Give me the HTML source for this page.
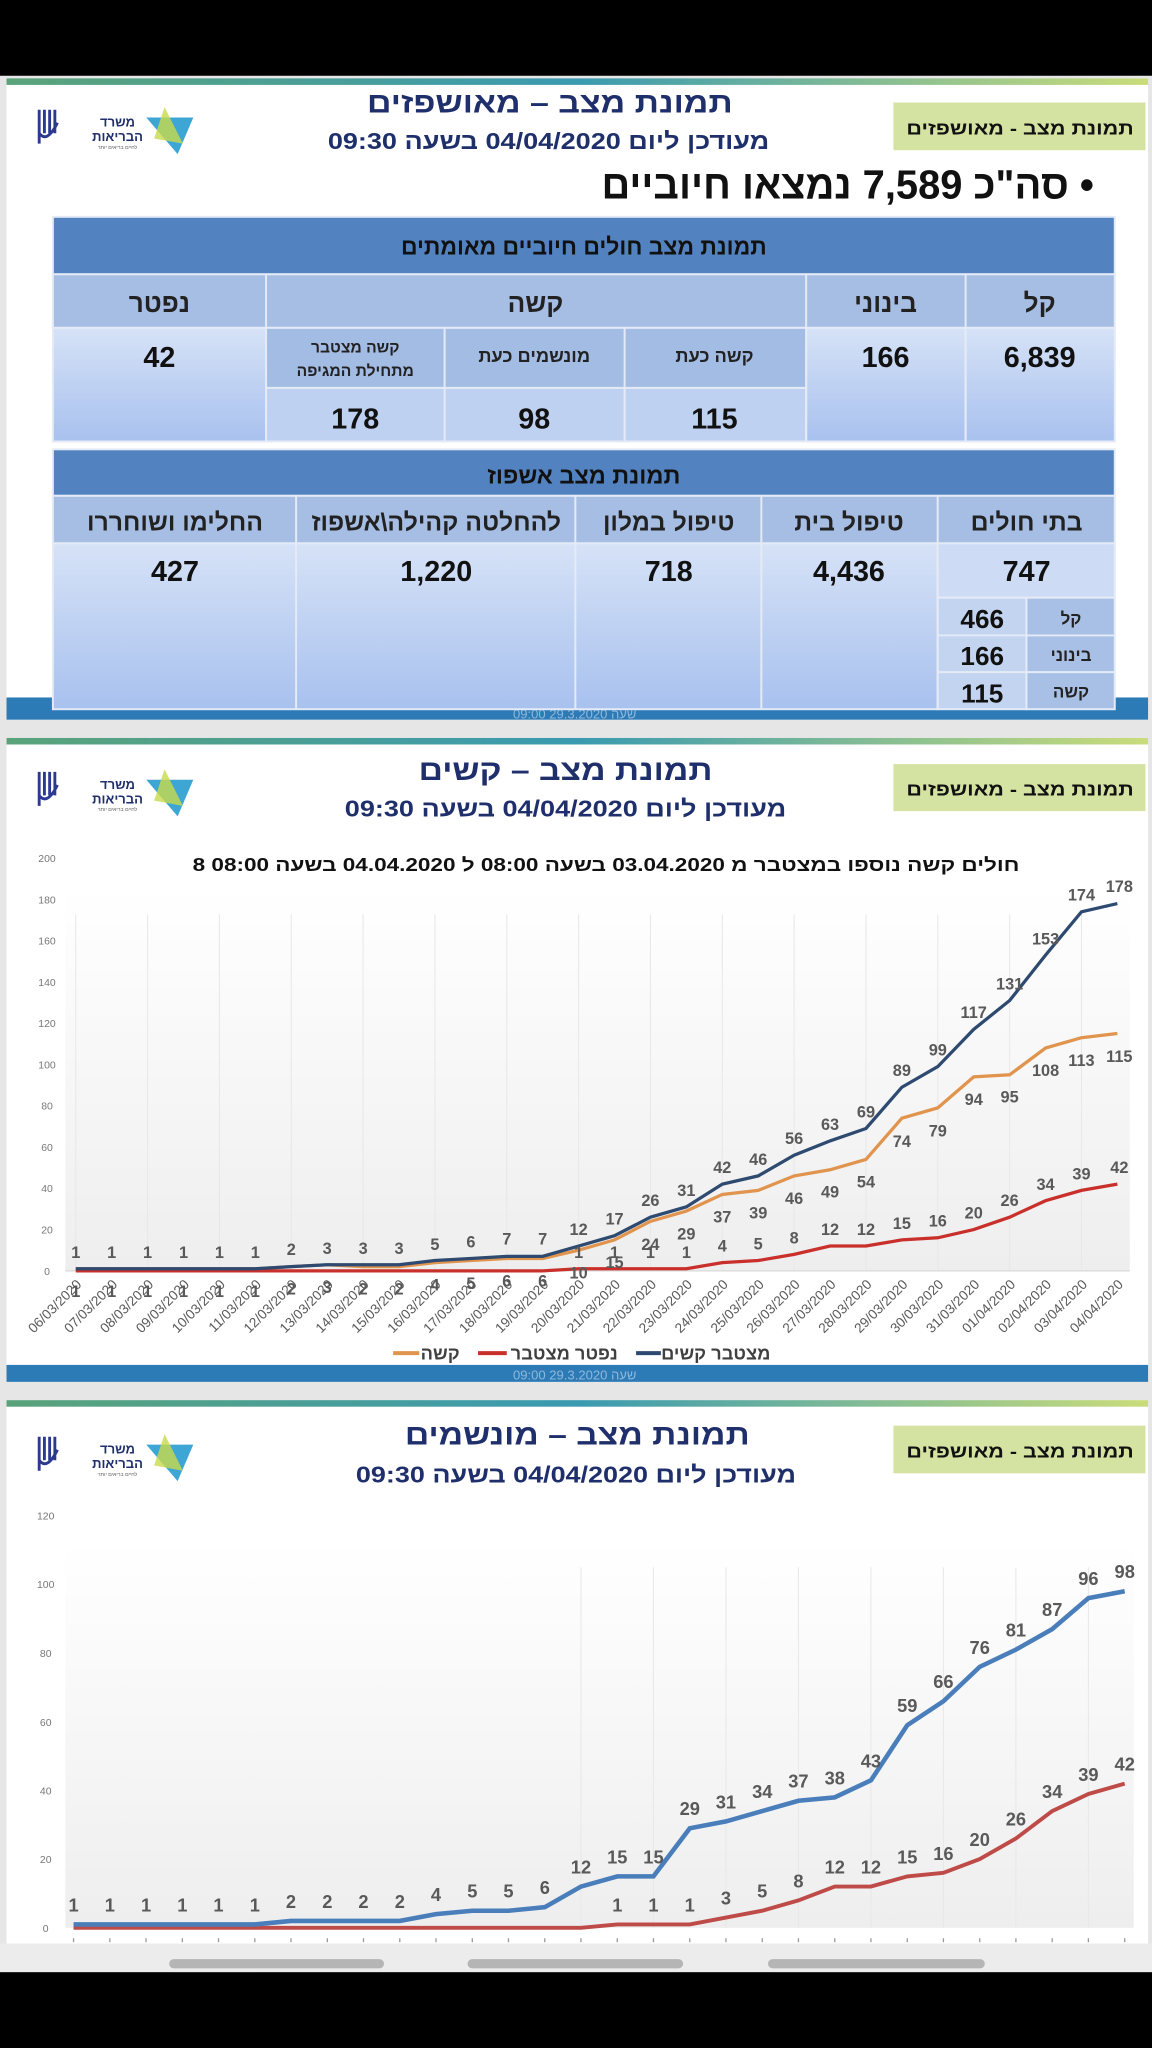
<!DOCTYPE html>
<html><head><meta charset="utf-8"><style>
html,body{margin:0;padding:0;background:#000;}
svg{display:block;}
text{font-family:"Liberation Sans","DejaVu Sans",sans-serif;}
</style></head><body>
<svg width="1152" height="2048" viewBox="0 0 882 1568" preserveAspectRatio="none" xmlns="http://www.w3.org/2000/svg">
<defs>
<linearGradient id="top" x1="0" x2="1"><stop offset="0" stop-color="#5aa37a"/><stop offset="0.5" stop-color="#3a9ab0"/><stop offset="1" stop-color="#c9dc7a"/></linearGradient>
<linearGradient id="cell" x1="0" y1="0" x2="0" y2="1"><stop offset="0" stop-color="#d6e2f7"/><stop offset="1" stop-color="#a8c1ee"/></linearGradient>
<linearGradient id="plot" x1="0" y1="0" x2="0" y2="1"><stop offset="0" stop-color="#ffffff"/><stop offset="1" stop-color="#eeeeee"/></linearGradient>
</defs>
<rect x="0" y="0" width="882" height="1568" fill="#000"/>
<rect x="0" y="58" width="882" height="1452" fill="#e6e6e6"/>
<rect x="5" y="60" width="874" height="491" fill="#fff"/>
<rect x="5" y="60" width="874" height="5" fill="url(#top)"/>
<rect x="5" y="565" width="874" height="493" fill="#fff"/>
<rect x="5" y="565" width="874" height="5" fill="url(#top)"/>
<rect x="5" y="1072" width="874" height="416" fill="#fff"/>
<rect x="5" y="1072" width="874" height="5" fill="url(#top)"/>

<g transform="translate(28,80)">
<path d="M2 4 V30 M6 4 V22 M10 4 V22 M14 4 V22 M2 22 Q8 30 16 14" stroke="#2b3990" stroke-width="2.2" fill="none"/>
<text x="62" y="17" font-size="10" font-weight="bold" fill="#1f2f6b" text-anchor="middle">משרד</text>
<text x="62" y="28" font-size="10" font-weight="bold" fill="#1f2f6b" text-anchor="middle">הבריאות</text>
<text x="62" y="34" font-size="4" fill="#555" text-anchor="middle">לחיים בריאים יותר</text>
<polygon points="84,10 120,10 108,38" fill="#3ea6d4"/>
<polygon points="98,2 112,30 90,26" fill="#c8d94a" opacity="0.8"/>
</g>
<g transform="translate(28,587)">
<path d="M2 4 V30 M6 4 V22 M10 4 V22 M14 4 V22 M2 22 Q8 30 16 14" stroke="#2b3990" stroke-width="2.2" fill="none"/>
<text x="62" y="17" font-size="10" font-weight="bold" fill="#1f2f6b" text-anchor="middle">משרד</text>
<text x="62" y="28" font-size="10" font-weight="bold" fill="#1f2f6b" text-anchor="middle">הבריאות</text>
<text x="62" y="34" font-size="4" fill="#555" text-anchor="middle">לחיים בריאים יותר</text>
<polygon points="84,10 120,10 108,38" fill="#3ea6d4"/>
<polygon points="98,2 112,30 90,26" fill="#c8d94a" opacity="0.8"/>
</g>
<g transform="translate(28,1096)">
<path d="M2 4 V30 M6 4 V22 M10 4 V22 M14 4 V22 M2 22 Q8 30 16 14" stroke="#2b3990" stroke-width="2.2" fill="none"/>
<text x="62" y="17" font-size="10" font-weight="bold" fill="#1f2f6b" text-anchor="middle">משרד</text>
<text x="62" y="28" font-size="10" font-weight="bold" fill="#1f2f6b" text-anchor="middle">הבריאות</text>
<text x="62" y="34" font-size="4" fill="#555" text-anchor="middle">לחיים בריאים יותר</text>
<polygon points="84,10 120,10 108,38" fill="#3ea6d4"/>
<polygon points="98,2 112,30 90,26" fill="#c8d94a" opacity="0.8"/>
</g>

<rect x="684" y="78.5" width="193" height="36.5" fill="#d5e3a2"/>
<text x="781" y="103" font-size="14" font-weight="bold" fill="#111" text-anchor="middle" textLength="174" lengthAdjust="spacingAndGlyphs">תמונת מצב - מאושפזים</text>
<rect x="684" y="585" width="193" height="36" fill="#d5e3a2"/>
<text x="781" y="609" font-size="14" font-weight="bold" fill="#111" text-anchor="middle" textLength="174" lengthAdjust="spacingAndGlyphs">תמונת מצב - מאושפזים</text>
<rect x="684" y="1091.5" width="193" height="36.5" fill="#d5e3a2"/>
<text x="781" y="1116" font-size="14" font-weight="bold" fill="#111" text-anchor="middle" textLength="174" lengthAdjust="spacingAndGlyphs">תמונת מצב - מאושפזים</text>

<!-- PANEL 1 -->
<text x="421" y="86" font-size="22" font-weight="bold" fill="#1f2f6b" text-anchor="middle" textLength="280" lengthAdjust="spacingAndGlyphs">תמונת מצב – מאושפזים</text>
<text x="420" y="114" font-size="18" font-weight="bold" fill="#1f2f6b" text-anchor="middle" textLength="338" lengthAdjust="spacingAndGlyphs">מעודכן ליום 04/04/2020 בשעה 09:30</text>
<text x="649" y="152" font-size="31" font-weight="bold" fill="#111" text-anchor="middle" textLength="377" lengthAdjust="spacingAndGlyphs" direction="rtl">• סה"כ 7,589 נמצאו חיוביים</text>

<rect x="5" y="534" width="874" height="17" fill="#2d7bb6"/>
<text x="440" y="550" font-size="10" fill="#8fb7da" text-anchor="middle">09:00 שעה 29.3.2020</text>

<g stroke="#e4ebf7" stroke-width="1.5">
<rect x="40.5" y="166" width="813" height="44" fill="#5282c0"/>
<rect x="40.5" y="210" width="813" height="41" fill="#a7bee4"/>
<rect x="40.5" y="251" width="163.2" height="87" fill="url(#cell)"/>
<rect x="617.2" y="251" width="122.1" height="87" fill="url(#cell)"/>
<rect x="739.3" y="251" width="114.2" height="87" fill="url(#cell)"/>
<rect x="203.7" y="251" width="413.5" height="46" fill="#a3bce4"/>
<rect x="203.7" y="297" width="413.5" height="41" fill="#bfd1f1"/>
<line x1="203.7" y1="210" x2="203.7" y2="338"/>
<line x1="617.2" y1="210" x2="617.2" y2="338"/>
<line x1="739.3" y1="210" x2="739.3" y2="338"/>
<line x1="340.4" y1="251" x2="340.4" y2="338"/>
<line x1="478.2" y1="251" x2="478.2" y2="338"/>
</g>
<text x="447" y="195" font-size="18" font-weight="bold" fill="#111" text-anchor="middle" textLength="280" lengthAdjust="spacingAndGlyphs">תמונת מצב חולים חיוביים מאומתים</text>
<g font-size="20" font-weight="bold" fill="#222" text-anchor="middle">
<text x="122" y="239">נפטר</text>
<text x="410" y="239">קשה</text>
<text x="678" y="239">בינוני</text>
<text x="796" y="239">קל</text>
</g>
<g font-size="22" font-weight="bold" fill="#111" text-anchor="middle">
<text x="122" y="281">42</text>
<text x="678" y="281">166</text>
<text x="796" y="281">6,839</text>
<text x="272" y="328">178</text>
<text x="409" y="328">98</text>
<text x="547" y="328">115</text>
</g>
<g font-size="14" font-weight="bold" fill="#222" text-anchor="middle">
<text x="409" y="277">מונשמים כעת</text>
<text x="547" y="277">קשה כעת</text>
<text x="272" y="270" font-size="12">קשה מצטבר</text>
<text x="272" y="288" font-size="12">מתחילת המגיפה</text>
</g>

<g stroke="#e4ebf7" stroke-width="1.5">
<rect x="40.5" y="344" width="813" height="35.6" fill="#5282c0"/>
<rect x="40.5" y="379.6" width="813" height="36.4" fill="#a7bee4"/>
<rect x="40.5" y="416" width="677.4" height="127" fill="url(#cell)"/>
<rect x="717.9" y="416" width="135.6" height="41.6" fill="#cddbf5"/>
<rect x="717.9" y="457.6" width="68" height="85.4" fill="#c3d4f1"/>
<rect x="785.9" y="457.6" width="67.6" height="85.4" fill="#a9c0e6"/>
<line x1="226.7" y1="379.6" x2="226.7" y2="543"/>
<line x1="440.5" y1="379.6" x2="440.5" y2="543"/>
<line x1="582.9" y1="379.6" x2="582.9" y2="543"/>
<line x1="717.9" y1="379.6" x2="717.9" y2="543"/>
<line x1="717.9" y1="486.5" x2="853.5" y2="486.5"/>
<line x1="717.9" y1="514.6" x2="853.5" y2="514.6"/>
</g>
<text x="447" y="370" font-size="18" font-weight="bold" fill="#111" text-anchor="middle">תמונת מצב אשפוז</text>
<g font-size="19" font-weight="bold" fill="#222" text-anchor="middle">
<text x="134" y="406">החלימו ושוחררו</text>
<text x="334" y="406">להחלטה קהילה\אשפוז</text>
<text x="512" y="406">טיפול במלון</text>
<text x="650" y="406">טיפול בית</text>
<text x="786" y="406">בתי חולים</text>
</g>
<g font-size="22" font-weight="bold" fill="#111" text-anchor="middle">
<text x="134" y="445">427</text>
<text x="334" y="445">1,220</text>
<text x="512" y="445">718</text>
<text x="650" y="445">4,436</text>
<text x="786" y="445">747</text>
<text x="752" y="481" font-size="20">466</text>
<text x="752" y="509" font-size="20">166</text>
<text x="752" y="538" font-size="20">115</text>
</g>
<g font-size="13" font-weight="bold" fill="#222" text-anchor="middle">
<text x="820" y="478">קל</text>
<text x="820" y="506">בינוני</text>
<text x="820" y="534">קשה</text>
</g>

<!-- PANEL 2 -->
<text x="433" y="597" font-size="22" font-weight="bold" fill="#1f2f6b" text-anchor="middle" textLength="225" lengthAdjust="spacingAndGlyphs">תמונת מצב – קשים</text>
<text x="433" y="625" font-size="18" font-weight="bold" fill="#1f2f6b" text-anchor="middle" textLength="338" lengthAdjust="spacingAndGlyphs">מעודכן ליום 04/04/2020 בשעה 09:30</text>
<rect x="50" y="680" width="815" height="293" fill="url(#plot)"/>
<g stroke="#e8e8e8" stroke-width="0.8">
<line x1="58" y1="700" x2="58" y2="973"/><line x1="113" y1="700" x2="113" y2="973"/><line x1="168" y1="700" x2="168" y2="973"/><line x1="223" y1="700" x2="223" y2="973"/><line x1="278" y1="700" x2="278" y2="973"/><line x1="333" y1="700" x2="333" y2="973"/><line x1="388" y1="700" x2="388" y2="973"/><line x1="443" y1="700" x2="443" y2="973"/><line x1="498" y1="700" x2="498" y2="973"/><line x1="553" y1="700" x2="553" y2="973"/><line x1="608" y1="700" x2="608" y2="973"/><line x1="663" y1="700" x2="663" y2="973"/><line x1="718" y1="700" x2="718" y2="973"/><line x1="773" y1="700" x2="773" y2="973"/><line x1="828" y1="700" x2="828" y2="973"/>
</g>
<line x1="50" y1="973" x2="865" y2="973" stroke="#d9d9d9" stroke-width="1"/>
<text x="464" y="667" font-size="14" font-weight="bold" fill="#111" text-anchor="middle" textLength="633" lengthAdjust="spacingAndGlyphs">חולים קשה נוספו במצטבר מ 03.04.2020 בשעה 08:00 ל 04.04.2020 בשעה 08:00 8</text>
<g font-size="8" fill="#777" text-anchor="middle">
<text x="36" y="660">200</text><text x="36" y="691.6">180</text><text x="36" y="723.2">160</text><text x="36" y="754.8">140</text><text x="36" y="786.4">120</text><text x="36" y="818">100</text><text x="36" y="849.6">80</text><text x="36" y="881.2">60</text><text x="36" y="912.8">40</text><text x="36" y="944.4">20</text><text x="36" y="976">0</text>
</g>
<polyline fill="none" stroke="#e0944e" stroke-width="2.5" points="58,971.4 85.5,971.4 113,971.4 140.5,971.4 168,971.4 195.5,971.4 223,969.8 250.5,968.3 278,969.8 305.5,969.8 333,966.7 360.5,965.1 388,963.5 415.5,963.5 443,957.2 470.5,949.3 498,935.1 525.5,927.2 553,914.5 580.5,911.4 608,900.3 635.5,895.6 663,887.7 690.5,856.1 718,848.2 745.5,824.5 773,822.9 800.5,802.4 828,794.5 855.5,791.3"/>
<polyline fill="none" stroke="#c9302c" stroke-width="2.5" points="58,973 415.5,973 443,971.4 470.5,971.4 498,971.4 525.5,971.4 553,966.7 580.5,965.1 608,960.4 635.5,954 663,954 690.5,949.3 718,947.7 745.5,941.4 773,931.9 800.5,919.3 828,911.4 855.5,906.6"/>
<polyline fill="none" stroke="#2e4a70" stroke-width="2.5" points="58,971.4 85.5,971.4 113,971.4 140.5,971.4 168,971.4 195.5,971.4 223,969.8 250.5,968.3 278,968.3 305.5,968.3 333,965.1 360.5,963.5 388,961.9 415.5,961.9 443,954 470.5,946.1 498,931.9 525.5,924 553,906.6 580.5,900.3 608,884.5 635.5,873.5 663,864 690.5,832.4 718,816.6 745.5,788.1 773,766 800.5,731.3 828,698.1 855.5,691.8"/>
<g font-size="12.5" font-weight="bold" fill="#595959" text-anchor="middle">
<text x="58" y="963">1</text><text x="85.5" y="963">1</text><text x="113" y="963">1</text><text x="140.5" y="963">1</text><text x="168" y="963">1</text><text x="195.5" y="963">1</text><text x="223" y="961">2</text><text x="250.5" y="960">3</text><text x="278" y="960">3</text><text x="305.5" y="960">3</text><text x="333" y="957">5</text><text x="360.5" y="955">6</text><text x="388" y="953">7</text><text x="415.5" y="953">7</text><text x="443" y="945.5">12</text><text x="470.5" y="937.5">17</text><text x="498" y="923.5">26</text><text x="525.5" y="915.5">31</text><text x="553" y="898">42</text><text x="580.5" y="892">46</text><text x="608" y="876">56</text><text x="635.5" y="865">63</text><text x="663" y="855.5">69</text><text x="690.5" y="824">89</text><text x="718" y="808">99</text><text x="745.5" y="779.5">117</text><text x="773" y="757.5">131</text><text x="800.5" y="723">153</text><text x="828" y="689.5">174</text><text x="857" y="683">178</text>
<text x="58" y="993">1</text><text x="85.5" y="993">1</text><text x="113" y="993">1</text><text x="140.5" y="993">1</text><text x="168" y="993">1</text><text x="195.5" y="993">1</text><text x="223" y="991">2</text><text x="250.5" y="990">3</text><text x="278" y="991">2</text><text x="305.5" y="991">2</text><text x="333" y="988">4</text><text x="360.5" y="987">5</text><text x="388" y="985">6</text><text x="415.5" y="985">6</text><text x="443" y="979">10</text><text x="470.5" y="971">15</text><text x="498" y="957">24</text><text x="525.5" y="949">29</text><text x="553" y="936">37</text><text x="580.5" y="933">39</text><text x="608" y="922">46</text><text x="635.5" y="917">49</text><text x="663" y="909">54</text><text x="690.5" y="878">74</text><text x="718" y="870">79</text><text x="745.5" y="846">94</text><text x="773" y="844">95</text><text x="800.5" y="824">108</text><text x="828" y="816">113</text><text x="857" y="813">115</text>
<text x="443" y="963">1</text><text x="470.5" y="963">1</text><text x="498" y="963">1</text><text x="525.5" y="963">1</text><text x="553" y="958">4</text><text x="580.5" y="956.5">5</text><text x="608" y="952">8</text><text x="635.5" y="945.5">12</text><text x="663" y="945.5">12</text><text x="690.5" y="941">15</text><text x="718" y="939">16</text><text x="745.5" y="933">20</text><text x="773" y="923.5">26</text><text x="800.5" y="911">34</text><text x="828" y="903">39</text><text x="857" y="898">42</text>
</g>
<g font-size="10.5" fill="#595959" text-anchor="end">
<text transform="translate(63,984) rotate(-45)">06/03/2020</text>
<text transform="translate(90.5,984) rotate(-45)">07/03/2020</text>
<text transform="translate(118,984) rotate(-45)">08/03/2020</text>
<text transform="translate(145.5,984) rotate(-45)">09/03/2020</text>
<text transform="translate(173,984) rotate(-45)">10/03/2020</text>
<text transform="translate(200.5,984) rotate(-45)">11/03/2020</text>
<text transform="translate(228,984) rotate(-45)">12/03/2020</text>
<text transform="translate(255.5,984) rotate(-45)">13/03/2020</text>
<text transform="translate(283,984) rotate(-45)">14/03/2020</text>
<text transform="translate(310.5,984) rotate(-45)">15/03/2020</text>
<text transform="translate(338,984) rotate(-45)">16/03/2020</text>
<text transform="translate(365.5,984) rotate(-45)">17/03/2020</text>
<text transform="translate(393,984) rotate(-45)">18/03/2020</text>
<text transform="translate(420.5,984) rotate(-45)">19/03/2020</text>
<text transform="translate(448,984) rotate(-45)">20/03/2020</text>
<text transform="translate(475.5,984) rotate(-45)">21/03/2020</text>
<text transform="translate(503,984) rotate(-45)">22/03/2020</text>
<text transform="translate(530.5,984) rotate(-45)">23/03/2020</text>
<text transform="translate(558,984) rotate(-45)">24/03/2020</text>
<text transform="translate(585.5,984) rotate(-45)">25/03/2020</text>
<text transform="translate(613,984) rotate(-45)">26/03/2020</text>
<text transform="translate(640.5,984) rotate(-45)">27/03/2020</text>
<text transform="translate(668,984) rotate(-45)">28/03/2020</text>
<text transform="translate(695.5,984) rotate(-45)">29/03/2020</text>
<text transform="translate(723,984) rotate(-45)">30/03/2020</text>
<text transform="translate(750.5,984) rotate(-45)">31/03/2020</text>
<text transform="translate(778,984) rotate(-45)">01/04/2020</text>
<text transform="translate(805.5,984) rotate(-45)">02/04/2020</text>
<text transform="translate(833,984) rotate(-45)">03/04/2020</text>
<text transform="translate(860.5,984) rotate(-45)">04/04/2020</text>
</g>
<line x1="301" y1="1036" x2="321" y2="1036" stroke="#e0944e" stroke-width="3"/>
<text x="337" y="1041" font-size="14" font-weight="bold" fill="#404040" text-anchor="middle">קשה</text>
<line x1="366" y1="1036" x2="388" y2="1036" stroke="#c9302c" stroke-width="3"/>
<text x="432" y="1041" font-size="14" font-weight="bold" fill="#404040" text-anchor="middle">נפטר מצטבר</text>
<line x1="487" y1="1036" x2="506" y2="1036" stroke="#2e4a70" stroke-width="3"/>
<text x="548" y="1041" font-size="14" font-weight="bold" fill="#404040" text-anchor="middle">מצטבר קשים</text>
<rect x="5" y="1045" width="874" height="13" fill="#2d7bb6"/>
<text x="440" y="1056" font-size="10" fill="#8fb7da" text-anchor="middle">09:00 שעה 29.3.2020</text>

<!-- PANEL 3 -->
<text x="442" y="1106" font-size="22" font-weight="bold" fill="#1f2f6b" text-anchor="middle" textLength="264" lengthAdjust="spacingAndGlyphs">תמונת מצב – מונשמים</text>
<text x="441" y="1135" font-size="18" font-weight="bold" fill="#1f2f6b" text-anchor="middle" textLength="337" lengthAdjust="spacingAndGlyphs">מעודכן ליום 04/04/2020 בשעה 09:30</text>
<rect x="50" y="1180" width="818" height="296" fill="url(#plot)"/>
<g stroke="#e8e8e8" stroke-width="0.8">
<line x1="444.8" y1="1200" x2="444.8" y2="1476"/><line x1="500.3" y1="1200" x2="500.3" y2="1476"/><line x1="555.8" y1="1200" x2="555.8" y2="1476"/><line x1="611.3" y1="1200" x2="611.3" y2="1476"/><line x1="666.8" y1="1200" x2="666.8" y2="1476"/><line x1="722.3" y1="1200" x2="722.3" y2="1476"/><line x1="777.8" y1="1200" x2="777.8" y2="1476"/><line x1="833.3" y1="1200" x2="833.3" y2="1476"/>
</g>
<g font-size="8" fill="#777" text-anchor="middle">
<text x="35" y="1163.5">120</text><text x="35" y="1216">100</text><text x="35" y="1268.7">80</text><text x="35" y="1321.3">60</text><text x="35" y="1373.9">40</text><text x="35" y="1426.4">20</text><text x="35" y="1479">0</text>
</g>
<polyline fill="none" stroke="#be4b48" stroke-width="3" points="56.3,1476 444.8,1476 472.6,1473.4 500.3,1473.4 528.1,1473.4 555.8,1468.1 583.6,1462.9 611.3,1455 639.1,1444.4 666.8,1444.4 694.6,1436.6 722.3,1433.9 750.1,1423.4 777.8,1407.6 805.6,1386.6 833.3,1373.5 861.1,1365.6"/>
<polyline fill="none" stroke="#4a7ebb" stroke-width="3.5" points="56.3,1473.4 84.1,1473.4 111.8,1473.4 139.6,1473.4 167.3,1473.4 195.1,1473.4 222.8,1470.7 250.6,1470.7 278.3,1470.7 306.1,1470.7 333.8,1465.5 361.6,1462.9 389.3,1462.9 417.1,1460.2 444.8,1444.4 472.6,1436.6 500.3,1436.6 528.1,1399.8 555.8,1394.5 583.6,1386.6 611.3,1378.7 639.1,1376.1 666.8,1363.1 694.6,1320.9 722.3,1302.5 750.1,1276.2 777.8,1263 805.6,1247.3 833.3,1223.6 861.1,1218.3"/>
<g font-size="14" font-weight="bold" fill="#595959" text-anchor="middle">
<text x="56.3" y="1463.4">1</text><text x="84.1" y="1463.4">1</text><text x="111.8" y="1463.4">1</text><text x="139.6" y="1463.4">1</text><text x="167.3" y="1463.4">1</text><text x="195.1" y="1463.4">1</text><text x="222.8" y="1460.7">2</text><text x="250.6" y="1460.7">2</text><text x="278.3" y="1460.7">2</text><text x="306.1" y="1460.7">2</text><text x="333.8" y="1455.5">4</text><text x="361.6" y="1452.9">5</text><text x="389.3" y="1452.9">5</text><text x="417.1" y="1450.2">6</text><text x="444.8" y="1434.4">12</text><text x="472.6" y="1426.6">15</text><text x="500.3" y="1426.6">15</text><text x="528.1" y="1389.8">29</text><text x="555.8" y="1384.5">31</text><text x="583.6" y="1376.6">34</text><text x="611.3" y="1368.7">37</text><text x="639.1" y="1366.1">38</text><text x="666.8" y="1353.1">43</text><text x="694.6" y="1310.9">59</text><text x="722.3" y="1292.5">66</text><text x="750.1" y="1266.2">76</text><text x="777.8" y="1253">81</text><text x="805.6" y="1237.3">87</text><text x="833.3" y="1213.6">96</text><text x="861.1" y="1208.3">98</text>
<text x="472.6" y="1463.4">1</text><text x="500.3" y="1463.4">1</text><text x="528.1" y="1463.4">1</text><text x="555.8" y="1458.1">3</text><text x="583.6" y="1452.9">5</text><text x="611.3" y="1445">8</text><text x="639.1" y="1434.4">12</text><text x="666.8" y="1434.4">12</text><text x="694.6" y="1426.6">15</text><text x="722.3" y="1423.9">16</text><text x="750.1" y="1413.4">20</text><text x="777.8" y="1397.6">26</text><text x="805.6" y="1376.6">34</text><text x="833.3" y="1363.5">39</text><text x="861.1" y="1355.6">42</text>
</g>
<g stroke="#999" stroke-width="1">
<line x1="56.3" y1="1484" x2="56.3" y2="1487"/><line x1="84.1" y1="1484" x2="84.1" y2="1487"/><line x1="111.8" y1="1484" x2="111.8" y2="1487"/><line x1="139.6" y1="1484" x2="139.6" y2="1487"/><line x1="167.3" y1="1484" x2="167.3" y2="1487"/><line x1="195.1" y1="1484" x2="195.1" y2="1487"/><line x1="222.8" y1="1484" x2="222.8" y2="1487"/><line x1="250.6" y1="1484" x2="250.6" y2="1487"/><line x1="278.3" y1="1484" x2="278.3" y2="1487"/><line x1="306.1" y1="1484" x2="306.1" y2="1487"/><line x1="333.8" y1="1484" x2="333.8" y2="1487"/><line x1="361.6" y1="1484" x2="361.6" y2="1487"/><line x1="389.3" y1="1484" x2="389.3" y2="1487"/><line x1="417.1" y1="1484" x2="417.1" y2="1487"/><line x1="444.8" y1="1484" x2="444.8" y2="1487"/><line x1="472.6" y1="1484" x2="472.6" y2="1487"/><line x1="500.3" y1="1484" x2="500.3" y2="1487"/><line x1="528.1" y1="1484" x2="528.1" y2="1487"/><line x1="555.8" y1="1484" x2="555.8" y2="1487"/><line x1="583.6" y1="1484" x2="583.6" y2="1487"/><line x1="611.3" y1="1484" x2="611.3" y2="1487"/><line x1="639.1" y1="1484" x2="639.1" y2="1487"/><line x1="666.8" y1="1484" x2="666.8" y2="1487"/><line x1="694.6" y1="1484" x2="694.6" y2="1487"/><line x1="722.3" y1="1484" x2="722.3" y2="1487"/><line x1="750.1" y1="1484" x2="750.1" y2="1487"/><line x1="777.8" y1="1484" x2="777.8" y2="1487"/><line x1="805.6" y1="1484" x2="805.6" y2="1487"/><line x1="833.3" y1="1484" x2="833.3" y2="1487"/><line x1="861.1" y1="1484" x2="861.1" y2="1487"/>
</g>
<rect x="0" y="1488" width="882" height="22" fill="#ececec"/>
<rect x="129.5" y="1500" width="164.5" height="7" rx="3.5" fill="#b5b5b5"/>
<rect x="358" y="1500" width="165" height="7" rx="3.5" fill="#b5b5b5"/>
<rect x="588" y="1500" width="166" height="7" rx="3.5" fill="#b5b5b5"/>
<rect x="0" y="1510" width="882" height="58" fill="#000"/>
</svg>
</body></html>
